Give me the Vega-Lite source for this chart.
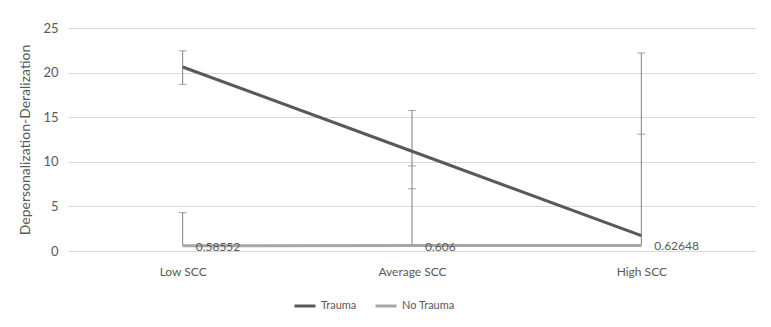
{
  "$schema": "https://vega.github.io/schema/vega-lite/v6.json",
  "width": 688,
  "height": 223,
  "autosize": {"type": "none"},
  "padding": {"left": 68, "top": 28, "right": 15, "bottom": 76},
  "background": "white",
  "config": {
    "font": "Lato",
    "view": {"stroke": null},
    "axis": {"labelColor": "#595959", "titleColor": "#595959", "labelFont": "Lato", "titleFont": "Lato"},
    "legend": {"labelColor": "#595959", "labelFont": "Lato"}
  },
  "datasets": {
    "points": [
      {"level": "Low SCC", "series": "Trauma", "value": 20.63},
      {"level": "Average SCC", "series": "Trauma", "value": 11.18},
      {"level": "High SCC", "series": "Trauma", "value": 1.72},
      {"level": "Low SCC", "series": "No Trauma", "value": 0.58552, "label": "0.58552"},
      {"level": "Average SCC", "series": "No Trauma", "value": 0.606, "label": "0.606"},
      {"level": "High SCC", "series": "No Trauma", "value": 0.62648, "label": "0.62648"}
    ],
    "bars": [
      {"level": "Low SCC", "lo": 0.58552, "hi": 4.3},
      {"level": "Low SCC", "lo": 18.69, "hi": 22.44},
      {"level": "Average SCC", "lo": 0.606, "hi": 15.76},
      {"level": "High SCC", "lo": 0.62648, "hi": 22.2}
    ],
    "caps": [
      {"level": "Low SCC", "value": 4.3},
      {"level": "Low SCC", "value": 18.69},
      {"level": "Low SCC", "value": 22.44},
      {"level": "Average SCC", "value": 15.76},
      {"level": "Average SCC", "value": 9.54},
      {"level": "Average SCC", "value": 6.98},
      {"level": "High SCC", "value": 22.2},
      {"level": "High SCC", "value": 13.1}
    ]
  },
  "encoding": {
    "x": {
      "field": "level",
      "type": "nominal",
      "sort": ["Low SCC", "Average SCC", "High SCC"],
      "scale": {"type": "point", "padding": 0.5},
      "axis": {
        "title": null,
        "labelAngle": 0,
        "ticks": false,
        "domain": false,
        "labelFontSize": 12,
        "labelPadding": 15
      }
    }
  },
  "layer": [
    {
      "data": {"name": "bars"},
      "mark": {"type": "rule", "color": "#7f7f7f", "strokeWidth": 1},
      "encoding": {
        "y": {
          "field": "lo",
          "type": "quantitative",
          "scale": {"domain": [0, 25], "nice": false},
          "axis": {
            "values": [0, 5, 10, 15, 20, 25],
            "title": "Depersonalization-Deralization",
            "titleFontSize": 14,
            "titleFontWeight": "normal",
            "titlePadding": 10,
            "labelFontSize": 13,
            "labelPadding": 10,
            "ticks": false,
            "domain": false,
            "grid": true,
            "gridColor": "#d9d9d9",
            "gridWidth": 1
          }
        },
        "y2": {"field": "hi"}
      }
    },
    {
      "data": {"name": "caps"},
      "mark": {"type": "tick", "color": "#7f7f7f", "size": 8, "thickness": 1, "orient": "horizontal"},
      "encoding": {
        "y": {"field": "value", "type": "quantitative"}
      }
    },
    {
      "data": {"name": "points"},
      "mark": {"type": "line", "strokeWidth": 3},
      "encoding": {
        "y": {"field": "value", "type": "quantitative"},
        "color": {
          "field": "series",
          "type": "nominal",
          "scale": {"domain": ["Trauma", "No Trauma"], "range": ["#595959", "#a6a6a6"]},
          "legend": {
            "title": null,
            "orient": "none",
            "direction": "horizontal",
            "legendX": 225,
            "legendY": 266,
            "symbolType": "stroke",
            "symbolSize": 441,
            "symbolStrokeWidth": 3,
            "labelFontSize": 11,
            "labelOffset": 4,
            "columnPadding": 12
          }
        }
      }
    },
    {
      "data": {"name": "points"},
      "transform": [{"filter": "datum.label != null"}],
      "mark": {"type": "text", "align": "left", "baseline": "middle", "dx": 13, "dy": 1, "fontSize": 12, "color": "#595959"},
      "encoding": {
        "y": {"field": "value", "type": "quantitative"},
        "text": {"field": "label", "type": "nominal"}
      }
    }
  ]
}
